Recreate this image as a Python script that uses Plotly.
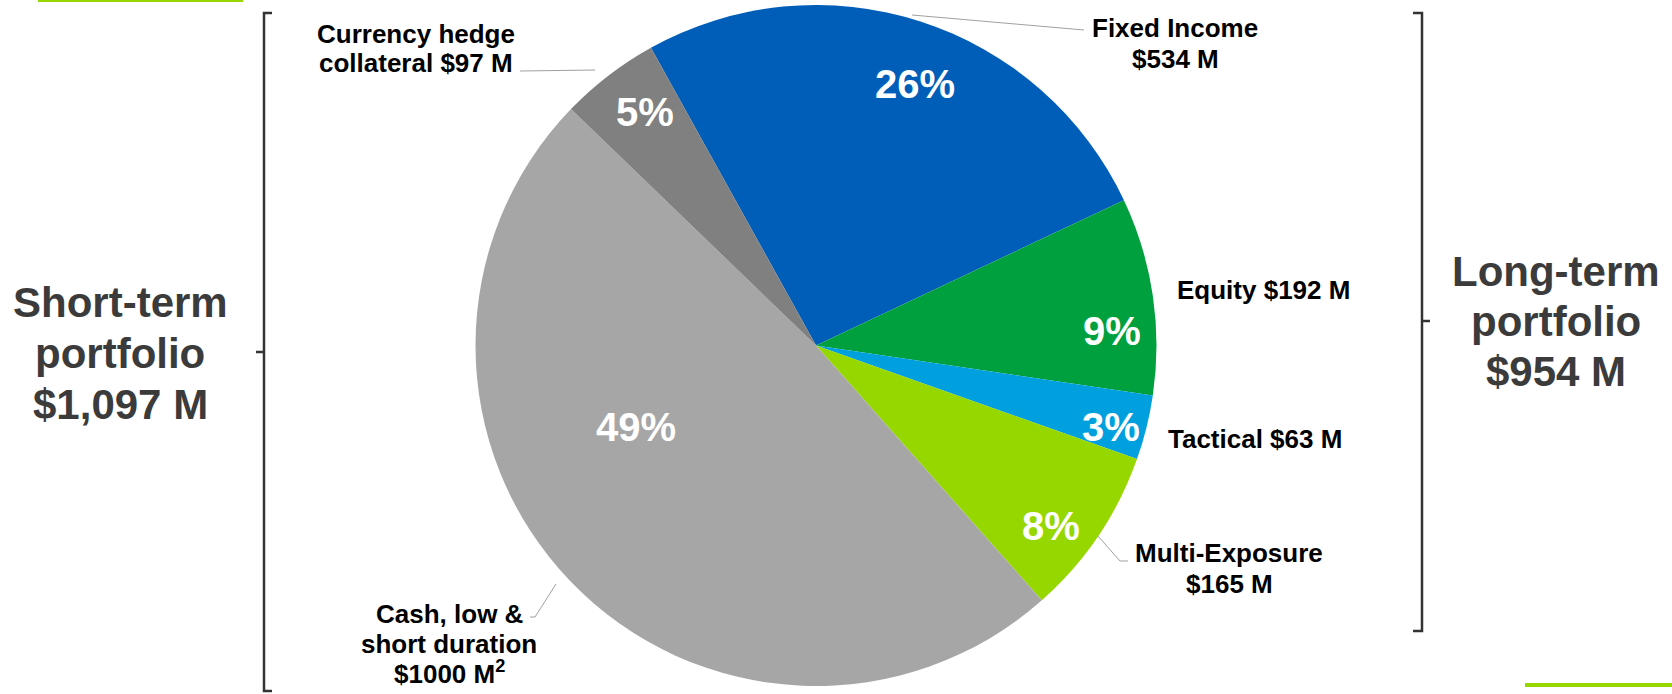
import math
import plotly.graph_objects as go

# ---------------- data ----------------
categories = ["Fixed Income", "Equity", "Tactical", "Multi-Exposure",
              "Cash, low & short duration", "Currency hedge collateral"]
values = [534, 192, 63, 165, 1000, 97]
label_lines = [["Fixed Income", "$534 M"],
               ["Equity $192 M"],
               ["Tactical $63 M"],
               ["Multi-Exposure", "$165 M"],
               ["Cash, low &", "short duration", "$1000 M<sup>2</sup>"],
               ["Currency hedge", "collateral $97 M"]]
short_term_idx = [4, 5]
long_term_idx = [0, 1, 2, 3]
group_titles = [["Short-term", "portfolio"], ["Long-term", "portfolio"]]

# ---------------- style / layout ----------------
W, H = 1672, 694
colors = ["#005EB8", "#00A03E", "#00A0DF", "#97D700", "#A6A6A6", "#808080"]
FONT = "Arial, Liberation Sans, sans-serif"
CX, CY, R = 816.0, 345.5, 340.5
ROT = -29.0
pct_rfrac = [0.82, 0.87, 0.90, 0.87, 0.58, 0.85]
pct_dang = [2.9, 5.7, 1.5, 3.6, 19.3, 1.2]
lab_pos = [(1175, [37, 68]), (1263, [299]), (1255, [448]), (1229, [562, 593]),
           (449, [623, 653, 682]), (416, [43, 72])]
leaders = [[(912, 15), (1084, 30)], None, None,
           [(1098, 536), (1120, 561), (1128, 561)],
           [(530, 617), (535, 617), (556, 584)],
           [(520, 71), (595, 70)]]
group_pos = [(120, [318, 369, 420]), (1556, [287, 337, 387])]

fig = go.Figure()
fig.add_trace(go.Pie(
    labels=categories, values=values, sort=False, direction="clockwise",
    rotation=ROT, marker=dict(colors=colors, line=dict(width=0)),
    textinfo="none", showlegend=False, hoverinfo="label+value+percent",
    domain=dict(x=[(CX - R) / W, (CX + R) / W], y=[1 - (CY + R) / H, 1 - (CY - R) / H]),
))

ann = []
shapes = []


def add_text(x, base, txt, size, color):
    ann.append(dict(x=x, y=base - 0.36 * size, xref="x", yref="y", text=txt,
                    showarrow=False, xanchor="center", yanchor="middle",
                    font=dict(family=FONT, size=size, color=color)))


# percentage labels, placed at angles derived from the data
total = sum(values)
start = ROT
for i, v in enumerate(values):
    span = v / total * 360.0
    mid = start + span / 2 + pct_dang[i]
    start += span
    a = math.radians(mid)
    r = R * pct_rfrac[i]
    px, py = CX + r * math.sin(a), CY - r * math.cos(a)
    ann.append(dict(x=px, y=py, xref="x", yref="y", text=f"<b>{round(v / total * 100)}%</b>",
                    showarrow=False, xanchor="center", yanchor="middle",
                    font=dict(family=FONT, size=40, color="white")))

# outside category labels
for i, lines in enumerate(label_lines):
    x, bases = lab_pos[i]
    for t, b in zip(lines, bases):
        add_text(x, b, f"<b>{t}</b>", 26, "#000000")
    if leaders[i]:
        pts = leaders[i]
        path = "M " + " L ".join(f"{p[0]},{p[1]}" for p in pts)
        shapes.append(dict(type="path", path=path, xref="x", yref="y",
                           line=dict(color="#A0A0A0", width=1)))

# group labels
for gi, idx in enumerate([short_term_idx, long_term_idx]):
    tot = sum(values[j] for j in idx)
    lines = group_titles[gi] + [f"${tot:,} M"]
    x, bases = group_pos[gi]
    for t, b in zip(lines, bases):
        add_text(x, b, f"<b>{t}</b>", 42, "#3B3B3B")

# brackets
BR = dict(color="#333333", width=2.5)
shapes.append(dict(type="path", xref="x", yref="y", line=BR,
                   path="M 272,13 L 264,13 L 264,691 L 272,691"))
shapes.append(dict(type="line", xref="x", yref="y", line=BR, x0=256, x1=264, y0=352, y1=352))
shapes.append(dict(type="path", xref="x", yref="y", line=BR,
                   path="M 1413,13 L 1422,13 L 1422,631 L 1413,631"))
shapes.append(dict(type="line", xref="x", yref="y", line=BR, x0=1422, x1=1430, y0=321, y1=321))

# green accent bars
shapes.append(dict(type="rect", xref="x", yref="y", x0=38, x1=243, y0=-2, y1=2,
                   fillcolor="#97D700", line=dict(width=0)))
shapes.append(dict(type="rect", xref="x", yref="y", x0=1525, x1=1672, y0=683, y1=687,
                   fillcolor="#97D700", line=dict(width=0)))

fig.update_layout(
    width=W, height=H, margin=dict(l=0, r=0, t=0, b=0),
    paper_bgcolor="white", plot_bgcolor="rgba(0,0,0,0)",
    xaxis=dict(range=[0, W], visible=False, fixedrange=True),
    yaxis=dict(range=[H, 0], visible=False, fixedrange=True),
    annotations=ann, shapes=shapes, showlegend=False,
)

fig.write_html("out.html", config={"displayModeBar": False},
               post_script="document.body.style.margin='0px';document.body.style.overflow='hidden';")
